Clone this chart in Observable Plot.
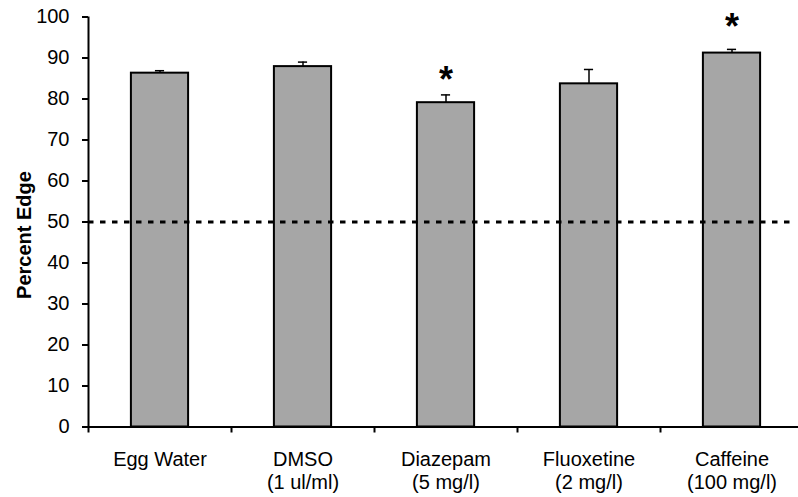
<!DOCTYPE html>
<html>
<head>
<meta charset="utf-8">
<script src="https://cdn.jsdelivr.net/npm/d3@7"></script>
<script src="https://cdn.jsdelivr.net/npm/@observablehq/plot@0.6"></script>
<style>
  html, body { margin: 0; padding: 0; background: #fff; }
  svg { display: block; }
</style>
</head>
<body>
<div id="chart"></div>
<script>
const categories = ["Egg Water", "DMSO\n(1 ul/ml)", "Diazepam\n(5 mg/l)", "Fluoxetine\n(2 mg/l)", "Caffeine\n(100 mg/l)"];
const means = [86.3, 87.9, 79.1, 83.7, 91.2];
const errors = [0.6, 1.1, 1.9, 3.5, 0.9];
const starLevels = [null, null, 86.8, null, 99.6];
const yTicks = [0, 10, 20, 30, 40, 50, 60, 70, 80, 90, 100];
const referenceLevel = 50;

const data = categories.map((c, i) => ({i, c, v: means[i], e: errors[i], star: starLevels[i]}));
const boundaries = d3.range(-0.5, categories.length, 1);
const half = 0.2, cap = 0.032;
const font = "'Liberation Sans', Arial, Helvetica, sans-serif";

const chart = Plot.plot({
  width: 798,
  height: 497,
  marginLeft: 88,
  marginRight: 3,
  marginTop: 16.5,
  marginBottom: 70.5,
  style: {fontFamily: font, fontSize: "20px", color: "#000", background: "#fff"},
  x: {domain: [-0.5, 4.5], range: [88, 803]},
  y: {domain: [0, 100]},
  marks: [
    Plot.axisY({ticks: yTicks, tickSize: 6, tickPadding: 13, strokeWidth: 2, fontSize: 20, label: null}),
    Plot.axisX({ticks: boundaries, tickSize: 6, strokeWidth: 2, tickFormat: () => "", label: null}),
    Plot.rectY(data, {x1: d => d.i - half, x2: d => d.i + half, y: "v", fill: "#a6a6a6", stroke: "#000", strokeWidth: 2}),
    Plot.ruleY([referenceLevel], {stroke: "#000", strokeWidth: 3, strokeDasharray: "5.5,6.5"}),
    Plot.ruleX(data, {x: "i", y1: "v", y2: d => d.v + d.e, stroke: "#000", strokeWidth: 1.5}),
    Plot.ruleY(data, {y: d => d.v + d.e, x1: d => d.i - cap, x2: d => d.i + cap, stroke: "#000", strokeWidth: 1.5}),
    Plot.text(data.filter(d => d.star != null), {x: "i", y: "star", text: () => "*", fontSize: 36, fontWeight: "bold", dy: 9, fill: "#000"}),
    Plot.text(data, {x: "i", y: 0, text: "c", lineAnchor: "top", dy: 22, fontSize: 20, lineHeight: 1.17, fill: "#000"}),
    Plot.ruleX([-0.5], {y1: 0, y2: 100, stroke: "#000", strokeWidth: 2}),
    Plot.ruleY([0], {x1: -0.5, x2: 4.5, stroke: "#000", strokeWidth: 2}),
    Plot.text(["Percent Edge"], {frameAnchor: "left", textAnchor: "middle", dx: -64, dy: 13, rotate: -90, fontWeight: "bold", fontSize: 20, fill: "#000"})
  ]
});
document.getElementById("chart").appendChild(chart);
</script>
</body>
</html>
